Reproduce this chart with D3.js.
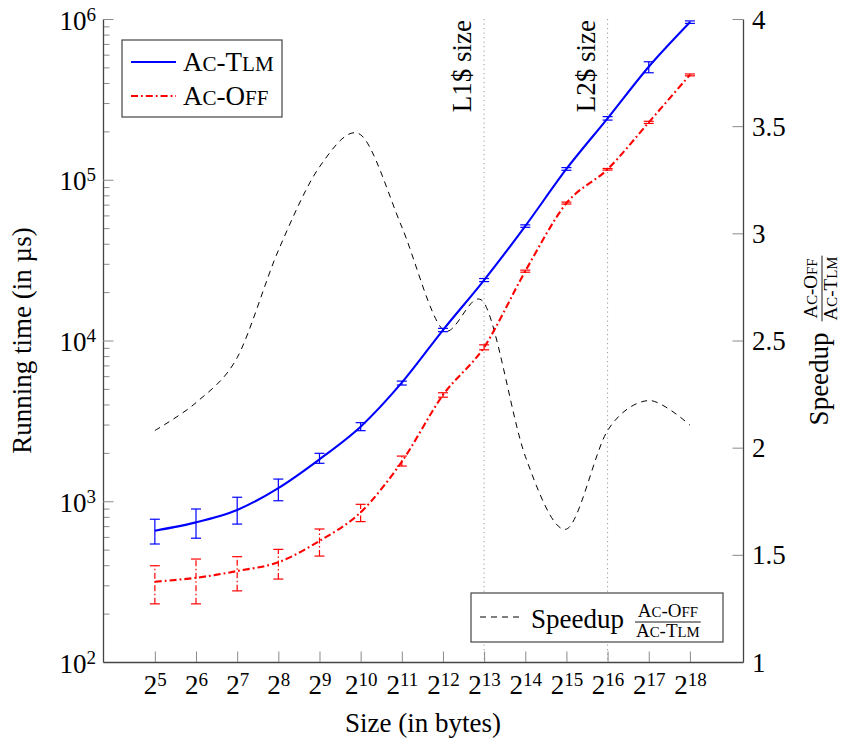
<!DOCTYPE html>
<html>
<head>
<meta charset="utf-8">
<script src="https://cdn.jsdelivr.net/npm/d3@7"></script>
<style>
body { margin: 0; background: #fff; }
svg { display: block; font-family: "Liberation Serif", serif; }
</style>
</head>
<body>
<svg id="chart" width="842" height="739"></svg>
<script>
// exponents of the sizes (2^k bytes)
var sizeExp = [5, 6, 7, 8, 9, 10, 11, 12, 13, 14, 15, 16, 17, 18];

// Ac-Tlm running time (us) with error bar ends
var tlmTime = [656, 739, 883, 1208, 1824, 2911, 5465, 11610, 23770, 51500, 116700, 241000, 505000, 955000];
var tlmLow  = [542, 589, 721, 1007, 1722, 2748, 5285, 11350, 23250, 50600, 114500, 235000, 463000, 939000];
var tlmHigh = [773, 895, 1059, 1374, 1987, 3083, 5590, 11900, 24300, 52400, 119000, 247000, 542000, 973000];

// Ac-Off running time (us) with error bar ends
var offTime = [316, 334, 368, 417, 566, 853, 1762, 4581, 9080, 27000, 71600, 116100, 227500, 449000];
var offLow  = [230, 230, 277, 328, 456, 747, 1656, 4440, 8750, 26600, 70600, 114800, 224000, 443000];
var offHigh = [397, 437, 452, 502, 672, 957, 1910, 4730, 9400, 27400, 72600, 117500, 231000, 455000];

// speedup (right axis)
var speedup = [2.08, 2.21, 2.42, 2.92, 3.31, 3.46, 3.03, 2.55, 2.675, 1.96, 1.62, 2.08, 2.22, 2.105];

// ticks
var timeTickExp = [2, 3, 4, 5, 6];
var speedTicks = [1, 1.5, 2, 2.5, 3, 3.5, 4];
var cacheExp = [13, 16];
var cacheLabels = ["L1$ size", "L2$ size"];

var nameTlm = [["A", 0], ["C", 1], ["-", 0], ["T", 0], ["LM", 1]];
var nameOff = [["A", 0], ["C", 1], ["-", 0], ["O", 0], ["FF", 1]];

var svg = d3.select("#chart");
var pLeft = 103, pRight = 743, pTop = 19, pBottom = 662;
var fs = 27;

var x = d3.scaleLinear().domain([3.74, 19.29]).range([pLeft, pRight]);
var y = d3.scaleLog().domain([1e2, 1e6]).range([pBottom, pTop]);
var y2 = d3.scaleLinear().domain([1, 4]).range([pBottom, pTop]);

var smallCaps = function(textSel, parts, size) {
    parts.forEach(function(p) {
        textSel.append("tspan")
            .attr("font-size", p[1] ? size * 0.78 : size)
            .text(p[0]);
    });
};

// cache size markers
cacheExp.forEach(function(e, i) {
    svg.append("line")
        .attr("x1", x(e)).attr("x2", x(e))
        .attr("y1", pTop).attr("y2", pBottom)
        .attr("stroke", "#999").attr("stroke-width", 1)
        .attr("stroke-dasharray", "1.2,3.3");
    svg.append("text")
        .attr("transform", "translate(" + (x(e) - 13) + "," + (pTop + 1) + ") rotate(-90)")
        .attr("text-anchor", "end")
        .attr("font-size", fs)
        .text(cacheLabels[i]);
});

// axes
var minorVals = [];
[2, 3, 4, 5].forEach(function(k) {
    for (var m = 2; m <= 9; m++) minorVals.push(m * Math.pow(10, k));
});

var gMinor = svg.append("g")
    .attr("transform", "translate(" + pLeft + ",0)")
    .call(d3.axisLeft(y).tickValues(minorVals).tickFormat("").tickSizeInner(-6.5).tickSizeOuter(0));
gMinor.select(".domain").remove();

var gy = svg.append("g")
    .attr("transform", "translate(" + pLeft + ",0)")
    .call(d3.axisLeft(y).tickValues(timeTickExp.map(function(e) { return Math.pow(10, e); }))
        .tickSizeInner(-10.5).tickSizeOuter(0));

var gy2 = svg.append("g")
    .attr("transform", "translate(" + pRight + ",0)")
    .call(d3.axisRight(y2).tickValues(speedTicks).tickSizeInner(-10.5).tickSizeOuter(0)
        .tickFormat(function(d) { return d; }));

var gx = svg.append("g")
    .attr("transform", "translate(0," + pBottom + ")")
    .call(d3.axisBottom(x).tickValues(sizeExp).tickSizeInner(-10.5).tickSizeOuter(0));

[gMinor, gy, gy2, gx].forEach(function(g) {
    g.selectAll(".tick line").attr("stroke", "#8a8a8a").attr("stroke-width", 1);
    g.select(".domain").attr("stroke", "#444").attr("stroke-width", 1.3);
    g.attr("font-family", null).attr("font-size", null);
});

gy.selectAll(".tick text").each(function(d) {
    var t = d3.select(this).text("").attr("x", -7).attr("dy", null).attr("y", 10)
        .attr("font-size", fs).attr("fill", "#000").attr("text-anchor", "end");
    t.append("tspan").text("10");
    t.append("tspan").attr("font-size", 19).attr("dy", -9).text(Math.round(Math.log10(d)));
});

gy2.selectAll(".tick text")
    .attr("x", 9).attr("dy", null).attr("y", 9)
    .attr("font-size", fs).attr("fill", "#000");

gx.selectAll(".tick text").each(function(d) {
    var t = d3.select(this).text("").attr("y", 32).attr("dy", null)
        .attr("font-size", fs).attr("fill", "#000");
    t.append("tspan").text("2");
    t.append("tspan").attr("font-size", 19).attr("dy", -8).text(d);
});

// axis titles
svg.append("text")
    .attr("x", (pLeft + pRight) / 2).attr("y", 732)
    .attr("text-anchor", "middle").attr("font-size", fs)
    .text("Size (in bytes)");

svg.append("text")
    .attr("transform", "translate(31," + (pTop + pBottom) / 2 + ") rotate(-90)")
    .attr("text-anchor", "middle").attr("font-size", fs)
    .text("Running time (in \u00b5s)");

// "Speedup Ac-Off / Ac-Tlm" block
var speedupLabel = function(g) {
    var w = g.append("text").attr("font-size", fs).text("Speedup");
    var sw = w.node().getComputedTextLength();
    var num = g.append("text").attr("y", -11).attr("text-anchor", "middle");
    smallCaps(num, nameOff, 19);
    var den = g.append("text").attr("y", 9).attr("text-anchor", "middle");
    smallCaps(den, nameTlm, 19);
    var fw = Math.max(num.node().getComputedTextLength(), den.node().getComputedTextLength());
    var cx = sw + 12 + fw / 2;
    num.attr("x", cx);
    den.attr("x", cx);
    g.append("line")
        .attr("x1", cx - fw / 2 - 1).attr("x2", cx + fw / 2 + 1)
        .attr("y1", -6).attr("y2", -6)
        .attr("stroke", "#000").attr("stroke-width", 0.9);
    return sw + 12 + fw + 1;
};

var rl = svg.append("g");
var rlw = speedupLabel(rl);
rl.attr("transform", "translate(828," + ((pTop + pBottom) / 2) + ") rotate(-90) translate(" + (-rlw / 2) + ",0)");

// speedup curve
var lineS = d3.line()
    .x(function(d, i) { return x(sizeExp[i]); })
    .y(function(d) { return y2(d); })
    .curve(d3.curveCardinal.tension(0.08));

svg.append("path")
    .datum(speedup)
    .attr("d", lineS)
    .attr("fill", "none").attr("stroke", "#000")
    .attr("stroke-width", 1).attr("stroke-dasharray", "6,5");

// timing series
var lineT = d3.line()
    .x(function(d, i) { return x(sizeExp[i]); })
    .y(function(d) { return y(d); })
    .curve(d3.curveCardinal.tension(0.08));

var series = [
    { vals: tlmTime, lo: tlmLow, hi: tlmHigh, color: "#0000ff", dash: null },
    { vals: offTime, lo: offLow, hi: offHigh, color: "#ff0000", dash: "7,3,1.8,3" }
];

series.forEach(function(s) {
    var g = svg.append("g");
    g.selectAll(".err")
        .data(sizeExp)
        .enter().append("line")
        .attr("x1", function(d) { return x(d); })
        .attr("x2", function(d) { return x(d); })
        .attr("y1", function(d, i) { return y(s.lo[i]); })
        .attr("y2", function(d, i) { return y(s.hi[i]); })
        .attr("stroke", s.color).attr("stroke-width", 1.2)
        .attr("stroke-dasharray", s.dash ? "6,2.5,1.5,2.5" : null);
    [s.lo, s.hi].forEach(function(arr) {
        g.selectAll(null)
            .data(sizeExp)
            .enter().append("line")
            .attr("x1", function(d) { return x(d) - 5; })
            .attr("x2", function(d) { return x(d) + 5; })
            .attr("y1", function(d, i) { return y(arr[i]); })
            .attr("y2", function(d, i) { return y(arr[i]); })
            .attr("stroke", s.color).attr("stroke-width", 1.2);
    });
    g.append("path")
        .datum(s.vals)
        .attr("d", lineT)
        .attr("fill", "none").attr("stroke", s.color)
        .attr("stroke-width", 2.1)
        .attr("stroke-dasharray", s.dash);
});

// legend 1
var lg = svg.append("g");
lg.append("rect")
    .attr("x", 122).attr("y", 40).attr("width", 160).attr("height", 77)
    .attr("fill", "#fff").attr("stroke", "#444").attr("stroke-width", 1.2);
[[nameTlm, series[0], 62], [nameOff, series[1], 96]].forEach(function(e) {
    lg.append("line")
        .attr("x1", 131).attr("x2", 176).attr("y1", e[2]).attr("y2", e[2])
        .attr("stroke", e[1].color).attr("stroke-width", 2.1)
        .attr("stroke-dasharray", e[1].dash);
    var t = lg.append("text").attr("x", 183).attr("y", e[2] + 8.5);
    smallCaps(t, e[0], fs);
});

// legend 2
var lg2 = svg.append("g");
lg2.append("rect")
    .attr("x", 471).attr("y", 593).attr("width", 252).attr("height", 49)
    .attr("fill", "#fff").attr("stroke", "#444").attr("stroke-width", 1.2);
lg2.append("line")
    .attr("x1", 480).attr("x2", 519).attr("y1", 617).attr("y2", 617)
    .attr("stroke", "#000").attr("stroke-width", 1).attr("stroke-dasharray", "6,5");
var lgs = lg2.append("g").attr("transform", "translate(531,628)");
speedupLabel(lgs);
</script>
</body>
</html>
